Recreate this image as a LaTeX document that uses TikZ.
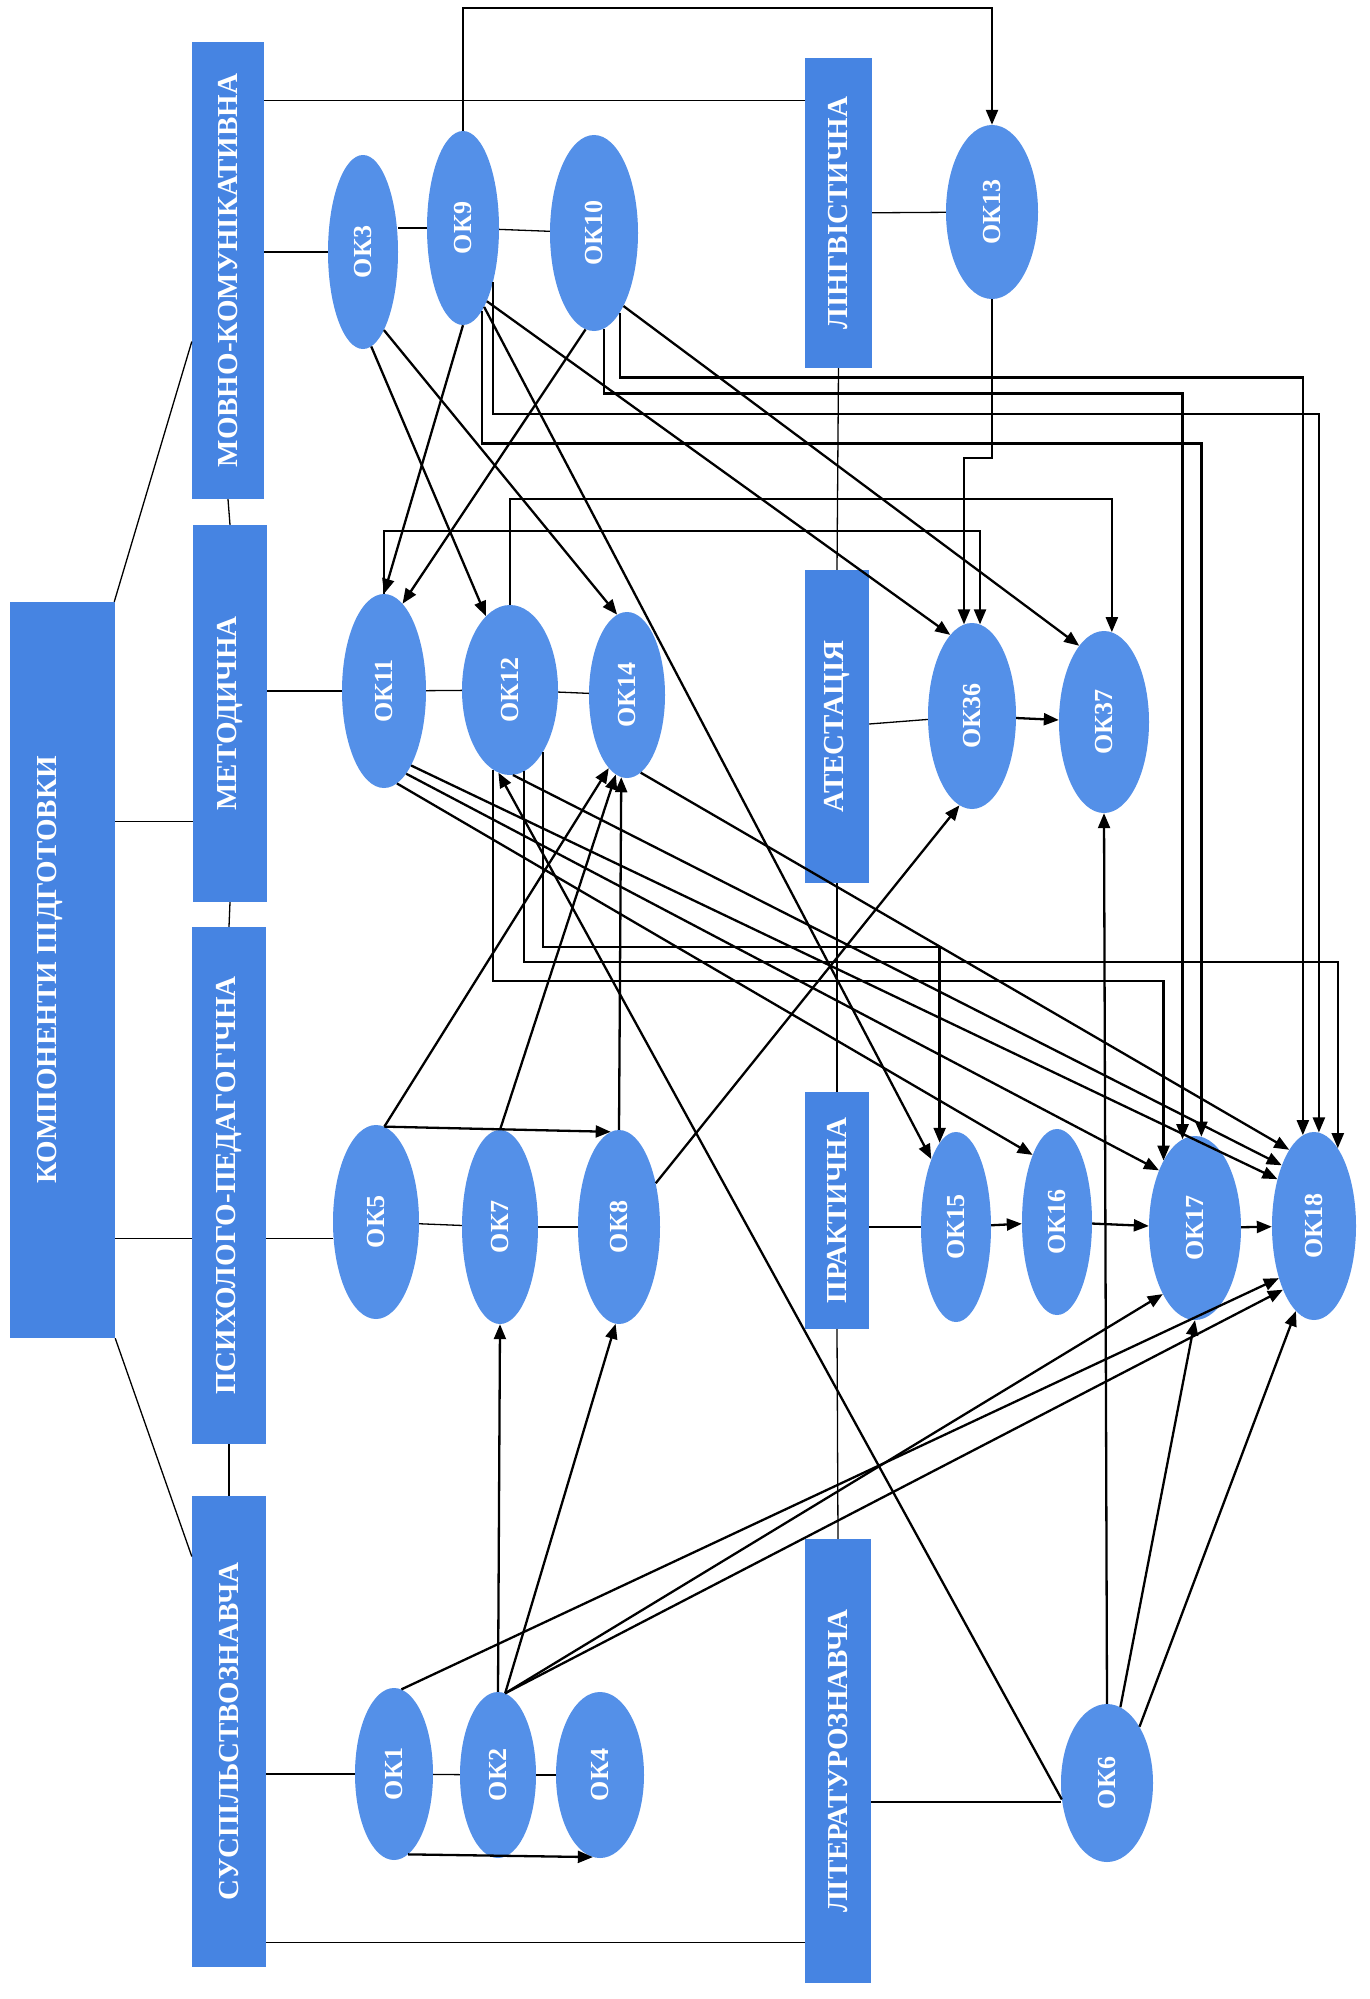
\documentclass[tikz,border=0pt]{standalone}
\usepackage{fontspec}
\usepackage{graphicx}
\setmainfont{Liberation Serif}
\usetikzlibrary{shapes.geometric,arrows.meta}
\definecolor{boxblue}{RGB}{70,132,226}
\definecolor{ovalblue}{RGB}{84,144,232}
\tikzset{
  compbox/.style={rectangle, fill=boxblue, inner sep=0pt, text=white,
    font=\fontsize{29}{31}\selectfont\bfseries},
  okoval/.style={ellipse, fill=ovalblue, inner sep=0pt, text=white,
    font=\fontsize{26}{28}\selectfont\bfseries},
  link/.style={line width=1.3pt},
  flow/.style={line width=2.3pt, -{Triangle[length=15pt,width=12pt]}},
}
\newcommand{\vtext}[1]{\rotatebox{90}{#1}}
\begin{document}
\begin{tikzpicture}[x=1pt,y=-1pt]
% page
\fill[white] (0,0) rectangle (1369,1999);

% Drawing component boxes
\node[compbox, minimum width=105pt, minimum height=736pt] (komp) at (62.5,970) {\vtext{\raisebox{13pt}[\height][\depth]{КОМПОНЕНТИ ПІДГОТОВКИ}}};
\node[compbox, minimum width=72pt, minimum height=457pt] (mov) at (228,270.5) {\vtext{МОВНО-КОМУНІКАТИВНА}};
\node[compbox, minimum width=74pt, minimum height=377pt] (met) at (230,713.5) {\vtext{МЕТОДИЧНА}};
\node[compbox, minimum width=74pt, minimum height=517pt] (psy) at (229,1185.5) {\vtext{ПСИХОЛОГО-ПЕДАГОГІЧНА}};
\node[compbox, minimum width=74pt, minimum height=471pt] (sus) at (229,1731.5) {\vtext{СУСПІЛЬСТВОЗНАВЧА}};
\node[compbox, minimum width=67pt, minimum height=310pt] (ling) at (838.5,213) {\vtext{ЛІНГВІСТИЧНА}};
\node[compbox, minimum width=64pt, minimum height=313pt] (ates) at (837,726.5) {\vtext{АТЕСТАЦІЯ}};
\node[compbox, minimum width=64pt, minimum height=237pt] (prak) at (837,1210.5) {\vtext{ПРАКТИЧНА}};
\node[compbox, minimum width=66pt, minimum height=444pt] (lit) at (838,1761) {\vtext{ЛІТЕРАТУРОЗНАВЧА}};

% Drawing ellipses OK
\node[okoval, minimum width=70pt, minimum height=194pt] (ok3) at (363,252) {\vtext{ОК3}};
\node[okoval, minimum width=72pt, minimum height=194pt] (ok9) at (463,228) {\vtext{ОК9}};
\node[okoval, minimum width=88pt, minimum height=196pt] (ok10) at (594,233) {\vtext{ОК10}};
\node[okoval, minimum width=92pt, minimum height=174pt] (ok13) at (992,212) {\vtext{ОК13}};
\node[okoval, minimum width=84pt, minimum height=194pt] (ok11) at (384,691) {\vtext{ОК11}};
\node[okoval, minimum width=96pt, minimum height=170pt] (ok12) at (510,690) {\vtext{ОК12}};
\node[okoval, minimum width=76pt, minimum height=166pt] (ok14) at (627,695) {\vtext{ОК14}};
\node[okoval, minimum width=88pt, minimum height=186pt] (ok36) at (972,716) {\vtext{ОК36}};
\node[okoval, minimum width=90pt, minimum height=182pt] (ok37) at (1104,722) {\vtext{ОК37}};
\node[okoval, minimum width=86pt, minimum height=194pt] (ok5) at (376,1222) {\vtext{ОК5}};
\node[okoval, minimum width=76pt, minimum height=194pt] (ok7) at (500,1227) {\vtext{ОК7}};
\node[okoval, minimum width=82pt, minimum height=194pt] (ok8) at (619,1227) {\vtext{ОК8}};
\node[okoval, minimum width=70pt, minimum height=190pt] (ok15) at (956,1227) {\vtext{ОК15}};
\node[okoval, minimum width=70pt, minimum height=186pt] (ok16) at (1057,1222) {\vtext{ОК16}};
\node[okoval, minimum width=92pt, minimum height=184pt] (ok17) at (1195,1228) {\vtext{ОК17}};
\node[okoval, minimum width=84pt, minimum height=188pt] (ok18) at (1314,1226) {\vtext{ОК18}};
\node[okoval, minimum width=78pt, minimum height=172pt] (ok1) at (394,1774) {\vtext{ОК1}};
\node[okoval, minimum width=76pt, minimum height=166pt] (ok2) at (498,1775) {\vtext{ОК2}};
\node[okoval, minimum width=88pt, minimum height=166pt] (ok4) at (600,1775) {\vtext{ОК4}};
\node[okoval, minimum width=92pt, minimum height=158pt] (ok6) at (1107,1783) {\vtext{ОК6}};

% Drawing links between boxes
\draw[link] (komp.82) -- (mov.243);
\draw[link] (met.251) -- (met.251 -| komp.east);
\draw[link] (psy.235) -- (psy.235 -| komp.east);
\draw[link] (komp.south east) -- (sus.102);
\draw[link] (mov.south) -- (met.north);
\draw[link] (met.south) -- (psy.north);
\draw[link] (psy.south) -- (sus.north);
\draw[link] (mov.78) -- (mov.78 -| ling.west);
\draw[link] (ling.south) -- (ates.north);
\draw[link] (ates.south) -- (prak.north);
\draw[link] (prak.south) -- (lit.north);
\draw[link] (sus.280) -- (sus.280 -| lit.west);

% Drawing links from boxes to ellipses
\draw[link] (ok3.west -| mov.east) -- (ok3.west);
\draw[link] (ok9.west -| ok3.east) -- (ok9.west);
\draw[link] (ok9) -- (ok10);
\draw[link] (ling) -- (ok13);
\draw[link] (ok11.west -| met.east) -- (ok11.west);
\draw[link] (ok11) -- (ok12);
\draw[link] (ok12) -- (ok14);
\draw[link] (ates) -- (ok36);
\draw[link] (psy.235 -| psy.east) -- (psy.235 -| ok5.west);
\draw[link] (ok5) -- (ok7);
\draw[link] (ok7) -- (ok8);
\draw[link] (ok15.west -| prak.east) -- (ok15.west);
\draw[link] (ok1.west -| sus.east) -- (ok1.west);
\draw[link] (ok1) -- (ok2);
\draw[link] (ok2) -- (ok4);
\draw[link] (lit.309) -- (lit.309 -| ok6.west);

% Drawing elbow arrows
\draw[flow] (ok9.north) -- ++(0,-123) -| (ok13.north);
\draw[flow] (ok13.south) -- ++(0,159) -| (ok36.95);
\draw[flow] (ok11.north) -- ++(0,-63) -| (ok36.85);
\draw[flow] (ok12.north) -- ++(0,-106) -| (ok37.85);
\draw[flow] (ok10.288) -- ++(0,65) -| (ok18.97);
\draw[flow] (ok10.276) -- ++(0,65) -| (ok17.98);
\draw[flow] (ok9.299) -- ++(0,132) -| (ok18.87);
\draw[flow] (ok9.283) -- ++(0,133) -| (ok17.86);
\draw[flow] (ok12.298) -- ++(0,195) -| (ok15.101);
\draw[flow] (ok12.280) -- ++(0,191) -| (ok18.73);
\draw[flow] (ok12.258) -- ++(0,211) -| (ok17.115);

% Drawing straight arrows, upper part
\draw[flow] (ok9.south) -- (ok11.north);
\draw[flow] (ok10.265) -- (ok11.78);
\draw[flow] (ok3.275) -- (ok12.108);
\draw[flow] (ok3.285) -- (ok14.97);
\draw[flow] (ok9.288) -- (ok36.105);
\draw[flow] (ok10.292) -- (ok37.108);
\draw[flow] (ok9.285) -- (ok15.110);
\draw[flow] (ok11.290) -- (ok18.128);
\draw[flow] (ok11.285) -- (ok17.122);
\draw[flow] (ok11.278) -- (ok16.110);
\draw[flow] (ok12.272) -- (ok18.118);
\draw[flow] (ok14.280) -- (ok18.108);

% Drawing straight arrows, lower part
\draw[flow] (ok5.85) -- (ok8.95);
\draw[flow] (ok5.85) -- (ok14.256);
\draw[flow] (ok7.north) -- (ok14.262);
\draw[flow] (ok8.north) -- (ok14.266);
\draw[flow] (ok8.50) -- (ok36.262);
\draw[flow] (ok36) -- (ok37);
\draw[flow] (ok15) -- (ok16);
\draw[flow] (ok16) -- (ok17);
\draw[flow] (ok17) -- (ok18);
\draw[flow] (ok2.north) -- (ok7.south);
\draw[flow] (ok2.85) -- (ok8.268);
\draw[flow] (ok2.85) -- (ok17.244);
\draw[flow] (ok2.85) -- (ok18.244);
\draw[flow] (ok1.85) -- (ok18.236);
\draw[flow] (ok1.280) -- (ok4.265);
\draw[flow] (ok6.200) -- (ok12.262);
\draw[flow] (ok6.north) -- (ok37.south);
\draw[flow] (ok6.80) -- (ok17.south);
\draw[flow] (ok6.60) -- (ok18.258);
\end{tikzpicture}
\end{document}
